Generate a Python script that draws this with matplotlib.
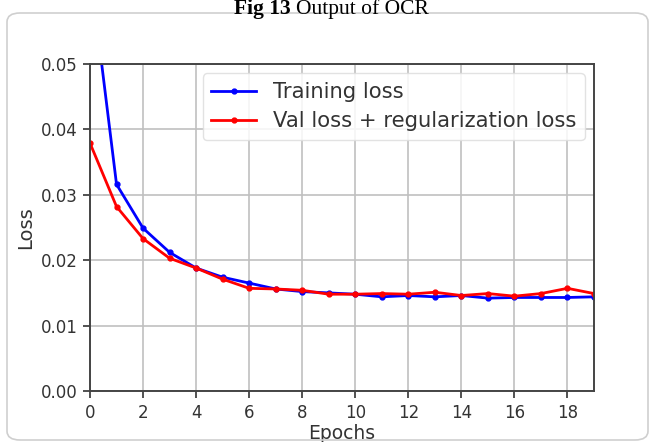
import matplotlib
matplotlib.use("Agg")
import matplotlib.pyplot as plt
from matplotlib.patches import FancyBboxPatch

epochs = list(range(20))
training_loss = [0.0645, 0.0316, 0.0249, 0.0212, 0.0188, 0.0174, 0.0165, 0.0156, 0.0152, 0.0150,
                 0.0148, 0.0144, 0.0146, 0.0144, 0.0146, 0.0142, 0.0143, 0.0143, 0.0143, 0.0144]
val_loss = [0.0379, 0.0282, 0.0233, 0.0203, 0.0188, 0.0171, 0.0157, 0.0156, 0.0154, 0.0148,
            0.0148, 0.0149, 0.0148, 0.0151, 0.0146, 0.0149, 0.0145, 0.0149, 0.0157, 0.0149]
yticks = [0.00, 0.01, 0.02, 0.03, 0.04, 0.05]
xticks = [0, 2, 4, 6, 8, 10, 12, 14, 16, 18]

W, H = 651, 442
fig = plt.figure(figsize=(W / 100, H / 100), dpi=100)

# rounded frame of the figure panel
frame = FancyBboxPatch((7 / W, 2 / H), 641 / W, 427 / H,
                       boxstyle="round,pad=0,rounding_size=0.02",
                       transform=fig.transFigure, fill=False,
                       edgecolor="#cfcfcf", linewidth=1.2)
fig.add_artist(frame)

# caption at the top
fig.text(291 / W, 1 - 14 / H, "Fig 13", ha="right", va="baseline",
         family="Liberation Serif", fontweight="bold", fontsize=15.5)
fig.text(296 / W, 1 - 14 / H, "Output of OCR", ha="left", va="baseline",
         family="Liberation Serif", fontsize=15.5)

ax = fig.add_axes([90 / W, 1 - 391 / H, (594 - 90) / W, (391 - 64) / H])
ax.plot(epochs, training_loss, color="#0000ff", marker=".", markersize=7,
        linewidth=2, label="Training loss")
ax.plot(epochs, val_loss, color="#ff0000", marker=".", markersize=7,
        linewidth=2, label="Val loss + regularization loss")
ax.set_xlim(0, 19)
ax.set_ylim(0, 0.05)
ax.set_xticks(xticks)
ax.set_yticks(yticks)
ax.set_yticklabels([f"{v:.2f}" for v in yticks])
ax.grid(True, color="#c0c0c0", linewidth=1.2)
ax.set_axisbelow(True)
ax.tick_params(labelsize=12, colors="#333333", length=5, width=1.2, pad=4)
for s in ax.spines.values():
    s.set_color("#444444")
    s.set_linewidth(1.4)
ax.set_xlabel("Epochs", fontsize=13.5, color="#333333", labelpad=2)
ax.set_ylabel("Loss", fontsize=14, color="#333333", labelpad=4)
leg = ax.legend(loc="upper right", fontsize=15.2, framealpha=0.85,
                edgecolor="#dddddd", labelcolor="#333333",
                handlelength=2.1, borderaxespad=0.45, labelspacing=0.45)

fig.savefig("out.png", dpi=100)
